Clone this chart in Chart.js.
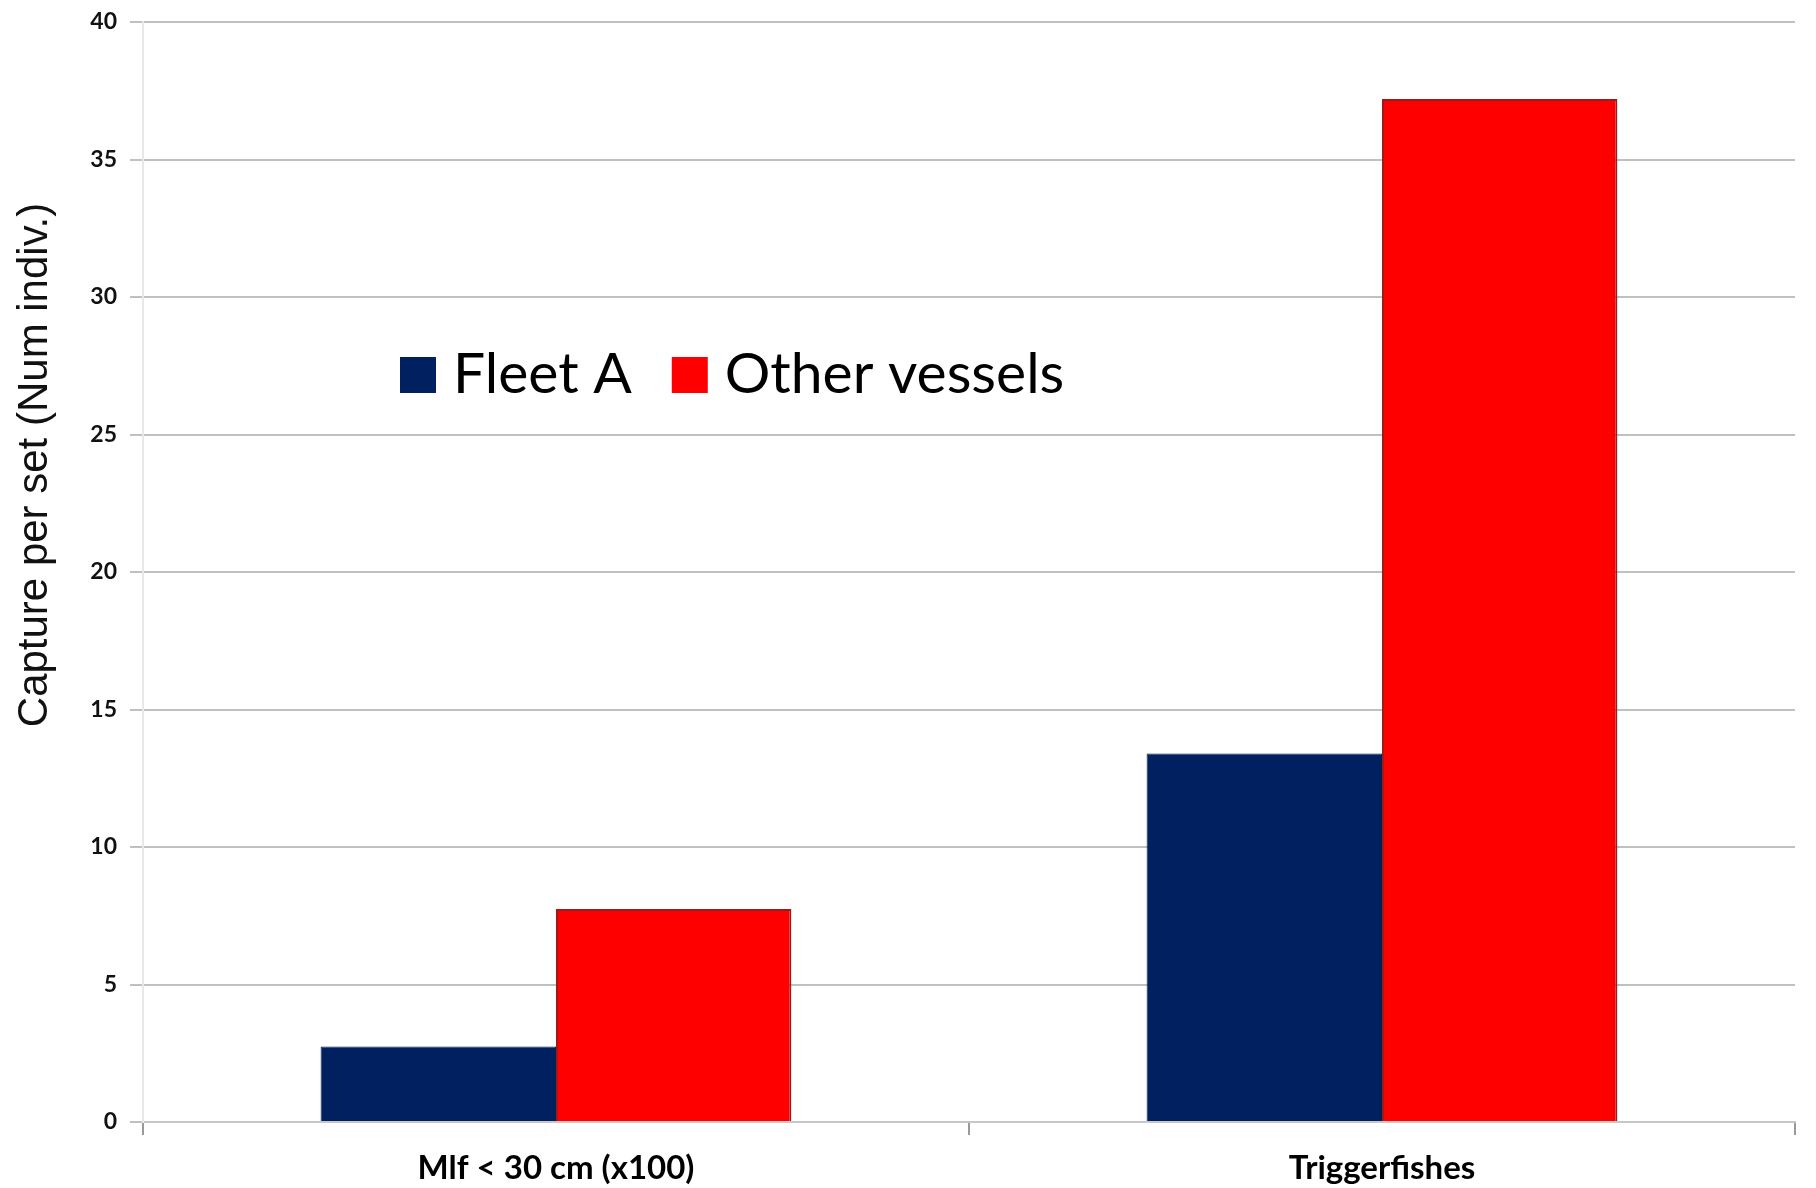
<!DOCTYPE html>
<html>
<head>
<meta charset="utf-8">
<script src="https://cdn.jsdelivr.net/npm/chart.js@4.4.1/dist/chart.umd.min.js"></script>
<style>
  html, body { margin: 0; padding: 0; background: #fff; }
  #wrap { width: 1816px; height: 1188px; position: relative; }
</style>
</head>
<body>
<div id="wrap"><canvas id="catch"></canvas></div>
<script>
const categories = ['Mlf < 30 cm (x100)', 'Triggerfishes'];
const seriesNames = ['Fleet A', 'Other vessels'];
const fleetA = [2.75, 13.4];
const otherVessels = [7.75, 37.2];
const yTitle = 'Capture per set (Num indiv.)';

const colors = ['#002060', '#ff0000'];
const borders = ['#0b1e4a', '#9e1b1b'];

// legend drawn inside the plot, boxes + text
const innerLegend = {
    id: 'innerLegend',
    afterDatasetsDraw(chart, args, opts) {
        const ctx = chart.ctx;
        ctx.save();
        ctx.font = opts.font;
        ctx.textBaseline = 'alphabetic';
        let x = opts.x;
        chart.data.datasets.forEach(ds => {
            ctx.fillStyle = ds.backgroundColor;
            ctx.fillRect(x, opts.y, opts.box, opts.box);
            ctx.fillStyle = '#000';
            const tx = x + opts.box + opts.gap;
            ctx.fillText(ds.label, tx, opts.y + opts.box);
            x = tx + ctx.measureText(ds.label).width + opts.spacing;
        });
        ctx.restore();
    }
};

// rotated y axis title
const sideTitle = {
    id: 'sideTitle',
    afterDraw(chart, args, opts) {
        const ctx = chart.ctx;
        ctx.save();
        ctx.translate(opts.x, opts.y);
        ctx.rotate(-Math.PI / 2);
        ctx.font = opts.font;
        ctx.fillStyle = '#111';
        ctx.textAlign = 'center';
        ctx.textBaseline = 'middle';
        ctx.fillText(opts.text, 0, 0);
        ctx.restore();
    }
};

const chart = new Chart(document.getElementById('catch'), {
    type: 'bar',
    data: {
        labels: categories,
        datasets: [
            {
                label: seriesNames[0],
                data: fleetA,
                backgroundColor: colors[0],
                borderColor: borders[0],
                borderWidth: 1
            },
            {
                label: seriesNames[1],
                data: otherVessels,
                backgroundColor: colors[1],
                borderColor: borders[1],
                borderWidth: 2
            }
        ]
    },
    plugins: [innerLegend, sideTitle],
    options: {
        responsive: true,
        maintainAspectRatio: false,
        animation: false,
        devicePixelRatio: 1,
        layout: { padding: { top: 22, right: 21, left: 0, bottom: 0 } },
        datasets: {
            bar: { barPercentage: 1, categoryPercentage: 0.57 }
        },
        plugins: {
            legend: { display: false },
            tooltip: { enabled: false },
            innerLegend: {
                x: 400, y: 357, box: 36, gap: 17, spacing: 40,
                font: '57px Lato'
            },
            sideTitle: {
                text: yTitle, x: 35, y: 465,
                font: '42px "Liberation Sans"'
            }
        },
        scales: {
            x: {
                afterFit(scale) { scale.height = 66; },
                grid: {
                    offset: true,
                    drawOnChartArea: false,
                    drawTicks: true,
                    tickLength: 13,
                    color: '#999',
                    lineWidth: 2
                },
                border: { display: true, color: '#c8c8c8', width: 2 },
                ticks: {
                    color: '#000',
                    padding: 14,
                    font: { family: 'Lato', size: 33, weight: 'bold' }
                }
            },
            y: {
                min: 0,
                max: 40,
                afterFit(scale) {
                    scale.width = 143;
                    scale.paddingTop = 0;
                    scale.paddingBottom = 0;
                },
                grid: {
                    color: '#c0c0c0',
                    lineWidth: 2,
                    drawTicks: true,
                    tickLength: 13
                },
                border: { display: true, color: '#e8e8e8', width: 2 },
                ticks: {
                    stepSize: 5,
                    color: '#111',
                    padding: 13,
                    font: { family: 'Lato', size: 23, weight: 'bold' }
                }
            }
        }
    }
});
</script>
</body>
</html>
